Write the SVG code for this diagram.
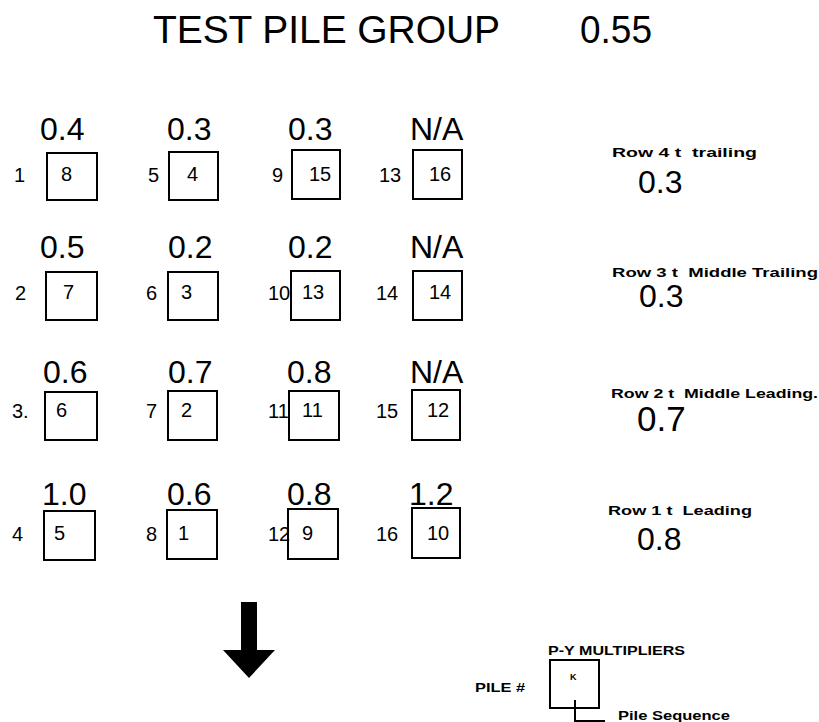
<svg xmlns="http://www.w3.org/2000/svg" width="819" height="722" viewBox="0 0 819 722">
<style>
.bg{fill:#fff}
.box{fill:none;stroke:#000;stroke-width:2}
.val{font-family:"Liberation Sans",Arial,sans-serif;font-size:32px;fill:#000}
.num{font-family:"Liberation Sans",Arial,sans-serif;font-size:20px;fill:#000}
.title{font-family:"Liberation Sans",Arial,sans-serif;font-size:39px;fill:#000}
.lbl{font-family:"Liberation Sans",Arial,sans-serif;font-size:13px;font-weight:bold;fill:#000;white-space:pre}
.line{fill:none;stroke:#000;stroke-width:2}
</style>
<rect class="bg" x="0" y="0" width="819" height="722"/>
<g id="title">
<text class="title" x="153" y="43" textLength="347" lengthAdjust="spacing">TEST PILE GROUP</text>
<text class="title" x="580" y="43" textLength="72" lengthAdjust="spacingAndGlyphs">0.55</text>
</g>
<!-- Row 1 -->
<g id="pile1"><text class="val" x="40" y="140">0.4</text><text class="num" x="14" y="182">1</text><rect class="box" x="47" y="153" width="50" height="47"/><text class="num" x="61" y="181">8</text></g>
<g id="pile5"><text class="val" x="167" y="140">0.3</text><text class="num" x="148" y="182">5</text><rect class="box" x="169" y="152" width="49" height="48"/><text class="num" x="187" y="181">4</text></g>
<g id="pile9"><text class="val" x="288" y="140">0.3</text><text class="num" x="272" y="182">9</text><rect class="box" x="292" y="150" width="48" height="49"/><text class="num" x="309" y="181">15</text></g>
<g id="pile13"><text class="val" x="410" y="140">N/A</text><text class="num" x="379" y="182">13</text><rect class="box" x="413" y="150" width="49" height="49"/><text class="num" x="429" y="181">16</text></g>
<!-- Row 2 -->
<g id="pile2"><text class="val" x="40" y="258">0.5</text><text class="num" x="15" y="300">2</text><rect class="box" x="46" y="272" width="51" height="48"/><text class="num" x="63" y="299">7</text></g>
<g id="pile6"><text class="val" x="168" y="258">0.2</text><text class="num" x="146" y="300">6</text><rect class="box" x="168" y="272" width="50" height="48"/><text class="num" x="181" y="299">3</text></g>
<g id="pile10"><text class="val" x="288" y="258">0.2</text><text class="num" x="268" y="300">10</text><rect class="box" x="291" y="271" width="49" height="49"/><text class="num" x="302" y="299">13</text></g>
<g id="pile14"><text class="val" x="410" y="258">N/A</text><text class="num" x="376" y="300">14</text><rect class="box" x="413" y="271" width="49" height="49"/><text class="num" x="429" y="299">14</text></g>
<!-- Row 3 -->
<g id="pile3"><text class="val" x="43" y="383">0.6</text><text class="num" x="12" y="418">3.</text><rect class="box" x="45" y="392" width="52" height="48"/><text class="num" x="56" y="417">6</text></g>
<g id="pile7"><text class="val" x="168" y="383">0.7</text><text class="num" x="146" y="418">7</text><rect class="box" x="168" y="391" width="49" height="49"/><text class="num" x="181" y="417">2</text></g>
<g id="pile11"><text class="val" x="287" y="383">0.8</text><text class="num" x="268" y="418">11</text><rect class="box" x="289" y="391" width="50" height="49"/><text class="num" x="302" y="417">11</text></g>
<g id="pile15"><text class="val" x="410" y="383">N/A</text><text class="num" x="376" y="418">15</text><rect class="box" x="412" y="390" width="48" height="50"/><text class="num" x="427" y="417">12</text></g>
<!-- Row 4 -->
<g id="pile4"><text class="val" x="42" y="505">1.0</text><text class="num" x="12" y="541">4</text><rect class="box" x="44" y="511" width="51" height="49"/><text class="num" x="54" y="540">5</text></g>
<g id="pile8"><text class="val" x="167" y="505">0.6</text><text class="num" x="146" y="541">8</text><rect class="box" x="167" y="510" width="50" height="49"/><text class="num" x="178" y="540">1</text></g>
<g id="pile12"><text class="val" x="287" y="505">0.8</text><text class="num" x="268" y="541">12</text><rect class="box" x="288" y="509" width="50" height="50"/><text class="num" x="302" y="540">9</text></g>
<g id="pile16"><text class="val" x="409" y="505">1.2</text><text class="num" x="376" y="541">16</text><rect class="box" x="412" y="508" width="48" height="50"/><text class="num" x="427" y="540">10</text></g>
<!-- Right side row summaries -->
<g id="row4"><text class="lbl" x="612" y="157" textLength="145" lengthAdjust="spacingAndGlyphs">Row 4 t  trailing</text><text class="val" x="638" y="193">0.3</text></g>
<g id="row3"><text class="lbl" x="612" y="277" textLength="206" lengthAdjust="spacingAndGlyphs">Row 3 t  Middle Trailing</text><text class="val" x="639" y="307">0.3</text></g>
<g id="row2"><text class="lbl" x="611" y="398" textLength="207" lengthAdjust="spacingAndGlyphs">Row 2 t  Middle Leading.</text><text class="val" x="637" y="431" style="font-size:35px">0.7</text></g>
<g id="row1"><text class="lbl" x="608" y="515" textLength="144" lengthAdjust="spacingAndGlyphs">Row 1 t  Leading</text><text class="val" x="637" y="550">0.8</text></g>
<!-- Arrow -->
<g id="arrow"><path d="M241 602 H257 V650 H275 L249 678 L223 650 H241 Z" fill="#000"/></g>
<!-- Legend -->
<g id="legend">
<text class="lbl" x="548" y="655" textLength="137" lengthAdjust="spacingAndGlyphs">P-Y MULTIPLIERS</text>
<text class="lbl" x="475" y="692" textLength="50" lengthAdjust="spacingAndGlyphs">PILE #</text>
<rect class="box" x="550" y="660" width="49" height="48"/>
<text class="lbl" x="570" y="680" style="font-size:9px">K</text>
<text class="lbl" x="618" y="720" textLength="112" lengthAdjust="spacingAndGlyphs">Pile Sequence</text>
</g>
<g id="connectors">
<path class="line" d="M575 700 V721 H605"/>
</g>
</svg>
